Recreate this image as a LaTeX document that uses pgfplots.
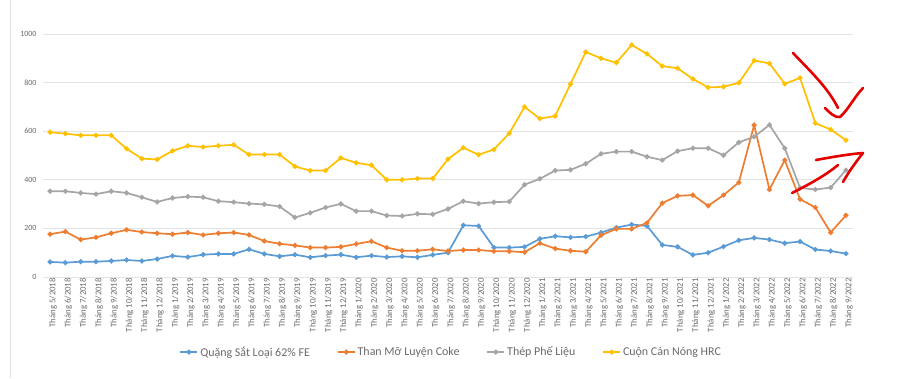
\documentclass[border=0pt]{standalone}
\usepackage{pgfplots}
\usepackage{pgfplotstable}
\pgfplotsset{compat=1.18}
\usepackage{fontspec}
\setmainfont{Carlito}
\definecolor{cfe}{HTML}{5B9BD5}
\definecolor{ccoke}{HTML}{ED7D31}
\definecolor{cscrap}{HTML}{A5A5A5}
\definecolor{chrc}{HTML}{FFC000}
\definecolor{gridc}{HTML}{E3E3E3}
\definecolor{txt}{HTML}{6A6A6A}
\pgfplotstableread{
x fe coke scrap hrc
0 62 176 353 596
1 59 187 353 590
2 63 154 346 583
3 63 163 341 583
4 66 180 353 583
5 70 194 346 528
6 66 185 328 487
7 74 180 309 484
8 87 176 325 519
9 82 183 331 540
10 92 173 328 535
11 95 180 312 540
12 95 183 308 544
13 114 173 302 504
14 95 148 299 504
15 85 137 290 504
16 92 130 245 455
17 81 121 264 438
18 88 121 286 438
19 92 124 301 490
20 81 136 271 470
21 88 147 271 460
22 82 121 253 400
23 85 108 251 400
24 81 108 260 405
25 91 114 258 405
26 100 107 280 485
27 213 111 312 532
28 210 111 302 503
29 121 106 308 525
30 121 106 310 591
31 124 102 380 700
32 157 139 404 652
33 168 117 438 662
34 163 108 441 794
35 166 104 466 926
36 183 172 507 900
37 203 198 516 882
38 216 198 516 955
39 210 223 495 918
40 132 304 481 868
41 124 334 518 859
42 91 337 530 815
43 100 293 530 780
44 125 337 501 783
45 151 389 554 799
46 161 625 577 891
47 154 360 626 879
48 139 481 530 795
49 146 320 367 819
50 113 286 360 633
51 107 183 368 607
52 96 254 440 563
}\datatable
\begin{document}
\begin{tikzpicture}[x=1bp,y=1bp]
\useasboundingbox (0,0) rectangle (910,378);
\draw[gray!25, line width=0.8bp] (10,0)--(10,378);
\begin{axis}[
  at={(43bp,101bp)}, anchor=south west,
  scale only axis, width=810bp, height=243bp,
  xmin=-0.46, xmax=52.46, ymin=0, ymax=1000,
  ytick={0,200,...,1000},
  xtick={0,...,52},
  xticklabels={Tháng 5/2018,Tháng 6/2018,Tháng 7/2018,Tháng 8/2018,Tháng 9/2018,Tháng 10/2018,Tháng 11/2018,Tháng 12/2018,Tháng 1/2019,Tháng 2/2019,Tháng 3/2019,Tháng 4/2019,Tháng 5/2019,Tháng 6/2019,Tháng 7/2019,Tháng 8/2019,Tháng 9/2019,Tháng 10/2019,Tháng 11/2019,Tháng 12/2019,Tháng 1/2020,Tháng 2/2020,Tháng 3/2020,Tháng 4/2020,Tháng 5/2020,Tháng 6/2020,Tháng 7/2020,Tháng 8/2020,Tháng 9/2020,Tháng 10/2020,Tháng 11/2020,Tháng 12/2020,Tháng 1/2021,Tháng 2/2021,Tháng 3/2021,Tháng 4/2021,Tháng 5/2021,Tháng 6/2021,Tháng 7/2021,Tháng 8/2021,Tháng 9/2021,Tháng 10/2021,Tháng 11/2021,Tháng 12/2021,Tháng 1/2022,Tháng 2/2022,Tháng 3/2022,Tháng 4/2022,Tháng 5/2022,Tháng 6/2022,Tháng 7/2022,Tháng 8/2022,Tháng 9/2022},
  xticklabel style={rotate=90, anchor=east, font=\fontsize{8.8}{9}\selectfont, text=txt, inner sep=1bp, yshift=-3bp},
  yticklabel style={font=\fontsize{8}{9}\selectfont, text=txt, xshift=-3bp},
  /pgf/number format/assume math mode=true,
  /pgf/number format/1000 sep={},
  axis line style={draw=none},
  tick style={draw=none},
  ymajorgrids, major grid style={gridc, line width=0.8bp},
  legend style={at={(0.504,-0.309)}, anchor=center, draw=none, fill=none,
    font=\fontsize{12}{13}\selectfont, text=txt, legend columns=4,
    /tikz/every even column/.append style={column sep=25bp}},
  legend cell align=left,
  every axis plot/.append style={line width=1.7bp, mark=*, mark size=1.6bp},
]
\addplot[cfe, mark options={fill=cfe}] table[x=x, y=fe] {\datatable};
\addlegendentry{Quặng Sắt Loại 62\% FE}
\addplot[ccoke, mark options={fill=ccoke}] table[x=x, y=coke] {\datatable};
\addlegendentry{Than Mỡ Luyện Coke}
\addplot[cscrap, mark options={fill=cscrap}] table[x=x, y=scrap] {\datatable};
\addlegendentry{Thép Phế Liệu}
\addplot[chrc, mark options={fill=chrc}] table[x=x, y=hrc] {\datatable};
\addlegendentry{Cuộn Cán Nóng HRC}
\end{axis}
\begin{scope}[red!90!black, line width=2.6bp, line cap=round, line join=round]
\draw (793,325) .. controls (812,305) and (828,290) .. (838,270);
\draw (825,270) .. controls (830,265) and (835,260) .. (840,261) .. controls (848,268) and (855,282) .. (863,290);
\draw (792,185) .. controls (810,194) and (826,203) .. (838,213);
\draw (816,218) .. controls (832,221) and (850,224) .. (863,225) .. controls (855,215) and (848,205) .. (843,196);
\end{scope}
\end{tikzpicture}
\end{document}
